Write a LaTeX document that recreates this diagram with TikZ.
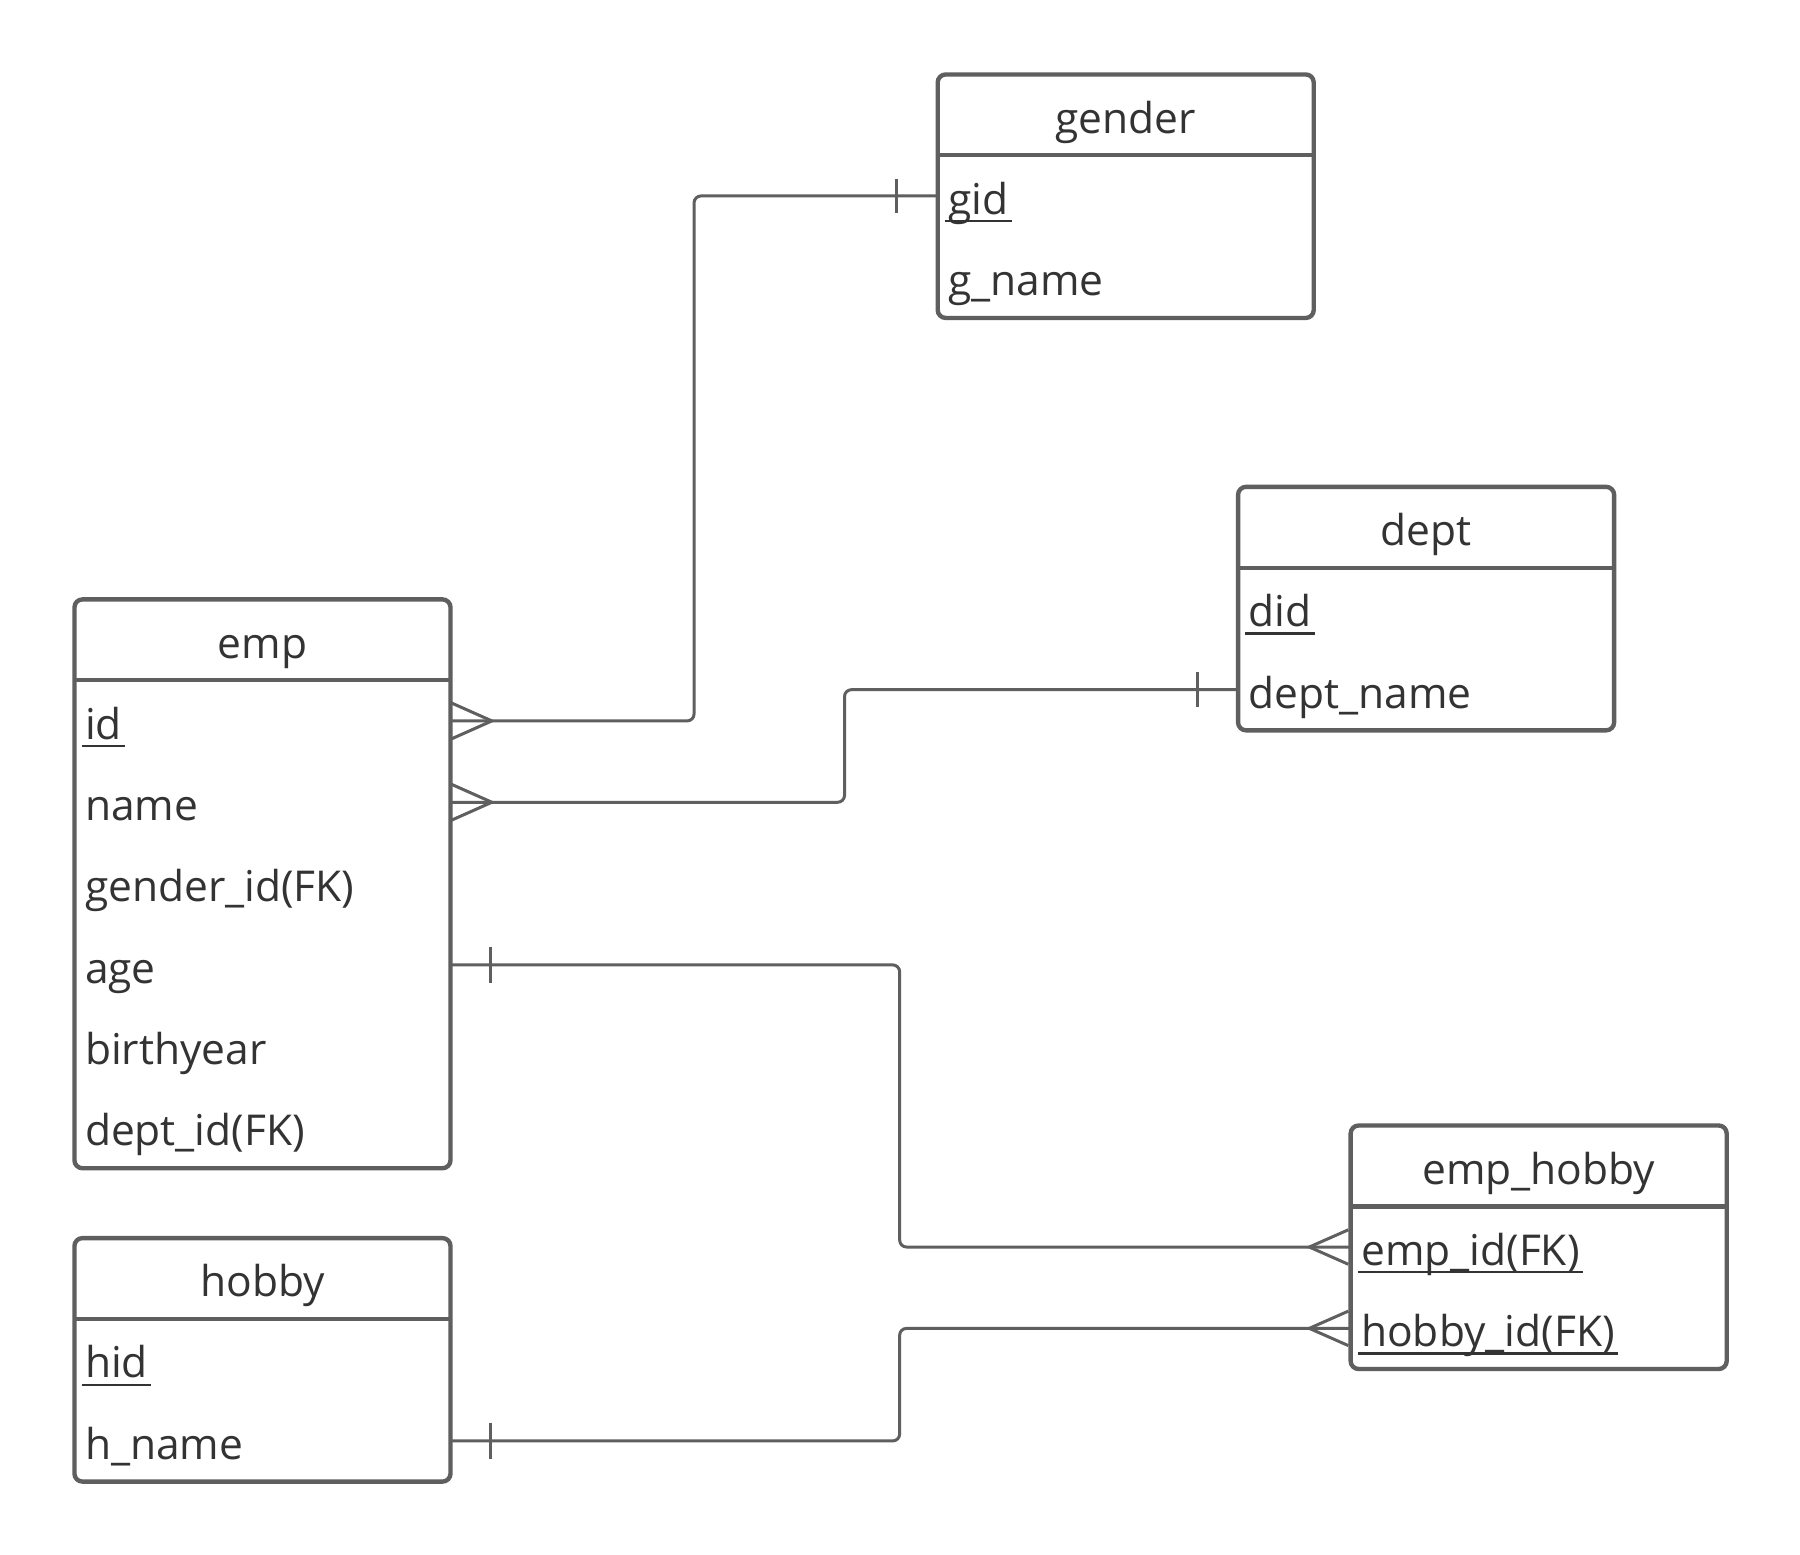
\documentclass[tikz,border=0pt]{standalone}
\usepackage{fontspec}
\setmainfont{Open Sans}
\usepackage{xcolor}
\usetikzlibrary{positioning}

\definecolor{boxgray}{HTML}{5F5F5F}
\definecolor{txtgray}{HTML}{333333}

% key columns are underlined at a fixed depth
\newcommand{\pkey}[1]{\setbox0\hbox{#1}\rlap{\kern-3pt\rule[-7pt]{\dimexpr\wd0+6pt\relax}{2pt}}\box0}

\tikzset{
	tblhead/.style={minimum width=327pt, minimum height=70pt, inner sep=0pt,
		text height=36pt, text depth=4pt, text=txtgray, font=\fontsize{37}{44}\selectfont},
	tblrow/.style={minimum width=327pt, minimum height=70.4pt, inner xsep=9pt, inner ysep=0pt,
		text width=309pt, align=left, text height=36pt, text depth=4pt,
		text=txtgray, font=\fontsize{37}{44}\selectfont},
	tblbox/.style={draw=boxgray, line width=3.8pt, rounded corners=7pt},
	tblsep/.style={draw=boxgray, line width=3.8pt},
	rel/.style={draw=boxgray, line width=2.6pt},
}

\begin{document}
\begin{tikzpicture}[x=1pt,y=-1pt]
	\fill[white] (0,0) rectangle (1567,1353);
	\useasboundingbox (0,0) rectangle (1567,1353);

	% gender
	\node[tblhead] (gender) at (980,100) {gender};
	\node[tblrow, below=0pt of gender] (gid) {\pkey{gid}};
	\node[tblrow, below=0pt of gid] (gname) {g\_name};
	\draw[tblbox] (gender.north west) rectangle (gname.south east);
	\draw[tblsep] (gender.south west) -- (gender.south east);

	% dept
	\node[tblhead] (dept) at (1241.5,459) {dept};
	\node[tblrow, below=0pt of dept] (did) {\pkey{did}};
	\node[tblrow, below=0pt of did] (dname) {dept\_name};
	\draw[tblbox] (dept.north west) rectangle (dname.south east);
	\draw[tblsep] (dept.south west) -- (dept.south east);

	% emp
	\node[tblhead] (emp) at (228.5,557) {emp};
	\node[tblrow, below=0pt of emp] (eid) {\pkey{id}};
	\node[tblrow, below=0pt of eid] (ename) {name};
	\node[tblrow, below=0pt of ename] (egender) {gender\_id(FK)};
	\node[tblrow, below=0pt of egender] (eage) {age};
	\node[tblrow, below=0pt of eage] (ebirth) {birthyear};
	\node[tblrow, below=0pt of ebirth] (edept) {dept\_id(FK)};
	\draw[tblbox] (emp.north west) rectangle (edept.south east);
	\draw[tblsep] (emp.south west) -- (emp.south east);

	% hobby
	\node[tblhead] (hobby) at (228.5,1113) {hobby};
	\node[tblrow, below=0pt of hobby] (hid) {\pkey{hid}};
	\node[tblrow, below=0pt of hid] (hname) {h\_name};
	\draw[tblbox] (hobby.north west) rectangle (hname.south east);
	\draw[tblsep] (hobby.south west) -- (hobby.south east);

	% emp_hobby
	\node[tblhead] (emphobby) at (1339.5,1015) {emp\_hobby};
	\node[tblrow, below=0pt of emphobby] (ehemp) {\pkey{emp\_id(FK)}};
	\node[tblrow, below=0pt of ehemp] (ehhob) {\pkey{hobby\_id(FK)}};
	\draw[tblbox] (emphobby.north west) rectangle (ehhob.south east);
	\draw[tblsep] (emphobby.south west) -- (emphobby.south east);

	% relations
	\draw[rel, rounded corners=6pt] (eid.east) -- ++(212,0) |- (gid.west);
	\draw[rel] (eid.east) ++(0,-16) -- ++(36,16) -- ++(-36,16);
	\draw[rel] (gid.west) ++(-36,-15) -- ++(0,30);

	\draw[rel, rounded corners=6pt] (ename.east) -- ++(343,0) |- (dname.west);
	\draw[rel] (ename.east) ++(0,-16) -- ++(36,16) -- ++(-36,16);
	\draw[rel] (dname.west) ++(-35,-15) -- ++(0,30);

	\draw[rel, rounded corners=6pt] (eage.east) -- ++(391,0) |- (ehemp.west);
	\draw[rel] (eage.east) ++(35,-16) -- ++(0,32);
	\draw[rel] (ehemp.west) ++(-2,-15) -- ++(-34,15) -- ++(34,15);

	\draw[rel, rounded corners=6pt] (hname.east) -- ++(391,0) |- (ehhob.west);
	\draw[rel] (hname.east) ++(35,-16) -- ++(0,32);
	\draw[rel] (ehhob.west) ++(-2,-15) -- ++(-34,15) -- ++(34,15);
\end{tikzpicture}
\end{document}
